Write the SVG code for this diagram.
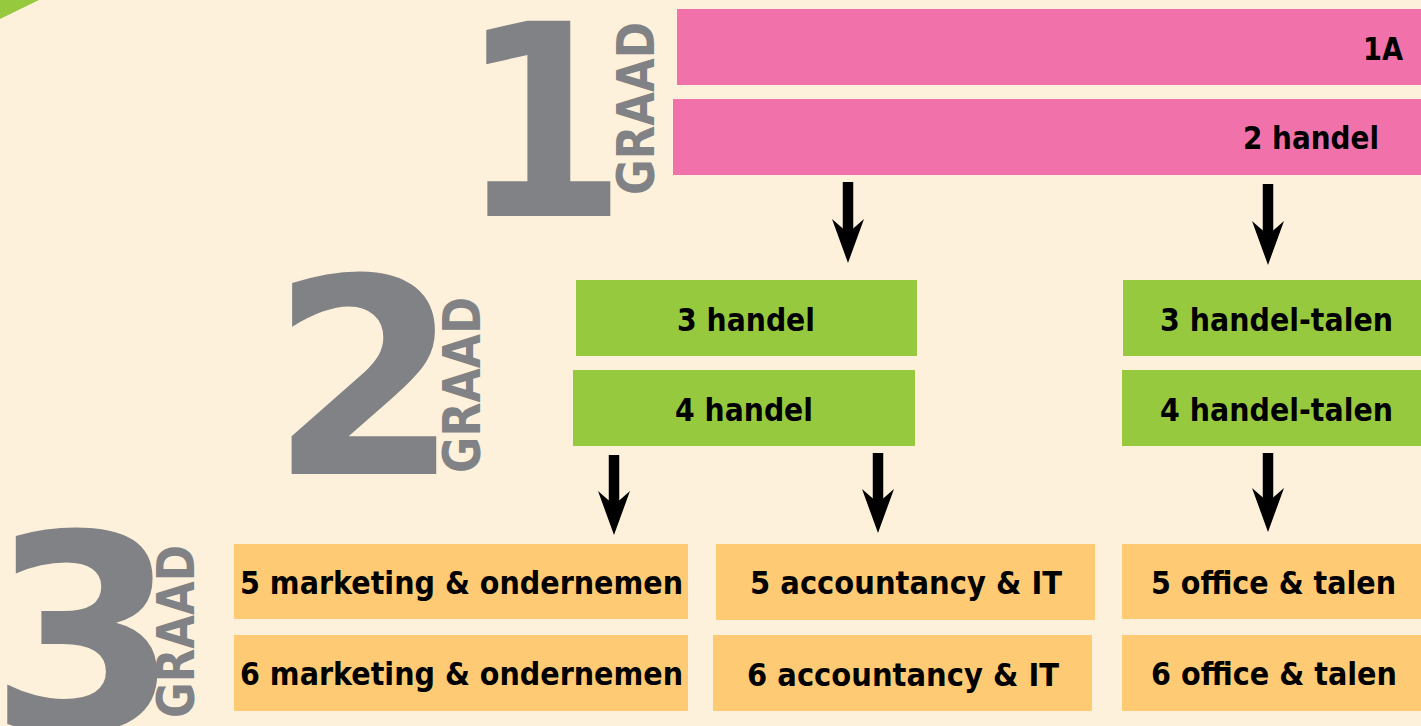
<svg xmlns="http://www.w3.org/2000/svg" width="1421" height="726" viewBox="0 0 1421 726">
<style>
.bg{fill:#FEF1DC}
.pink{fill:#F172AA}
.green{fill:#97C93F}
.orange{fill:#FECB74}
.lbl{font-family:"DejaVu Sans","Liberation Sans",sans-serif;font-weight:bold;font-size:32px;fill:#000}
.big{font-family:"DejaVu Sans","Liberation Sans",sans-serif;font-weight:bold;fill:#808285}
.graad{font-family:"DejaVu Sans","Liberation Sans",sans-serif;font-weight:bold;font-size:51px;fill:#808285}
.shaft{stroke:#000;stroke-width:10.5;fill:none}
</style>
<defs>
<marker id="head" markerUnits="userSpaceOnUse" viewBox="0 0 44 32" refX="14" refY="16" markerWidth="44" markerHeight="32" orient="auto">
<path d="M0,0 L44,16 L0,32 L14,16 Z" fill="#000"/>
</marker>
</defs>
<rect class="bg" x="0" y="0" width="1421" height="726"/>
<polygon points="0,0 39,0 0,19" fill="#97C93F"/>

<g id="grade1">
<text class="big" transform="translate(543,216) scale(0.9,1)" x="0" y="0" font-size="268" text-anchor="middle">1</text>
<text class="graad" transform="translate(654,195) rotate(-90)" textLength="173" lengthAdjust="spacingAndGlyphs">GRAAD</text>
</g>
<g id="grade2">
<text class="big" x="365" y="474" font-size="273" text-anchor="middle">2</text>
<text class="graad" transform="translate(480,473) rotate(-90)" textLength="176" lengthAdjust="spacingAndGlyphs">GRAAD</text>
</g>
<g id="grade3">
<text class="big" x="84" y="730" font-size="273" text-anchor="middle">3</text>
<text class="graad" transform="translate(194,718) rotate(-90)" textLength="173" lengthAdjust="spacingAndGlyphs">GRAAD</text>
</g>

<g id="n1A"><rect class="pink" x="677" y="9" width="744" height="76"/><text class="lbl" x="1363" y="60" textLength="40" lengthAdjust="spacingAndGlyphs">1A</text></g>
<g id="n2handel"><rect class="pink" x="673" y="99" width="748" height="76"/><text class="lbl" x="1243" y="149" textLength="136" lengthAdjust="spacingAndGlyphs">2 handel</text></g>

<g id="n3handel"><rect class="green" x="576" y="280" width="341" height="76"/><text class="lbl" x="677" y="331" textLength="138" lengthAdjust="spacingAndGlyphs">3 handel</text></g>
<g id="n4handel"><rect class="green" x="573" y="370" width="342" height="76"/><text class="lbl" x="675" y="421" textLength="138" lengthAdjust="spacingAndGlyphs">4 handel</text></g>
<g id="n3handeltalen"><rect class="green" x="1123" y="280" width="298" height="76"/><text class="lbl" x="1160" y="331" textLength="233" lengthAdjust="spacingAndGlyphs">3 handel-talen</text></g>
<g id="n4handeltalen"><rect class="green" x="1122" y="370" width="299" height="76"/><text class="lbl" x="1160" y="421" textLength="233" lengthAdjust="spacingAndGlyphs">4 handel-talen</text></g>

<g id="n5marketing"><rect class="orange" x="234" y="544" width="454" height="75"/><text class="lbl" x="240" y="594" textLength="443" lengthAdjust="spacingAndGlyphs">5 marketing &amp; ondernemen</text></g>
<g id="n6marketing"><rect class="orange" x="234" y="635" width="454" height="76"/><text class="lbl" x="240" y="685" textLength="443" lengthAdjust="spacingAndGlyphs">6 marketing &amp; ondernemen</text></g>
<g id="n5accountancy"><rect class="orange" x="716" y="544" width="379" height="76"/><text class="lbl" x="750" y="594" textLength="312" lengthAdjust="spacingAndGlyphs">5 accountancy &amp; IT</text></g>
<g id="n6accountancy"><rect class="orange" x="713" y="635" width="379" height="76"/><text class="lbl" x="747" y="686" textLength="312" lengthAdjust="spacingAndGlyphs">6 accountancy &amp; IT</text></g>
<g id="n5office"><rect class="orange" x="1122" y="544" width="299" height="75"/><text class="lbl" x="1151" y="594" textLength="245" lengthAdjust="spacingAndGlyphs">5 office &amp; talen</text></g>
<g id="n6office"><rect class="orange" x="1122" y="635" width="299" height="76"/><text class="lbl" x="1151" y="685" textLength="246" lengthAdjust="spacingAndGlyphs">6 office &amp; talen</text></g>

<g id="connectors">
<line class="shaft" x1="848" y1="182" x2="848" y2="233" marker-end="url(#head)"/>
<line class="shaft" x1="1268" y1="184" x2="1268" y2="235" marker-end="url(#head)"/>
<line class="shaft" x1="614" y1="455" x2="614" y2="505" marker-end="url(#head)"/>
<line class="shaft" x1="878" y1="453" x2="878" y2="503" marker-end="url(#head)"/>
<line class="shaft" x1="1268" y1="453" x2="1268" y2="502" marker-end="url(#head)"/>
</g>
</svg>
